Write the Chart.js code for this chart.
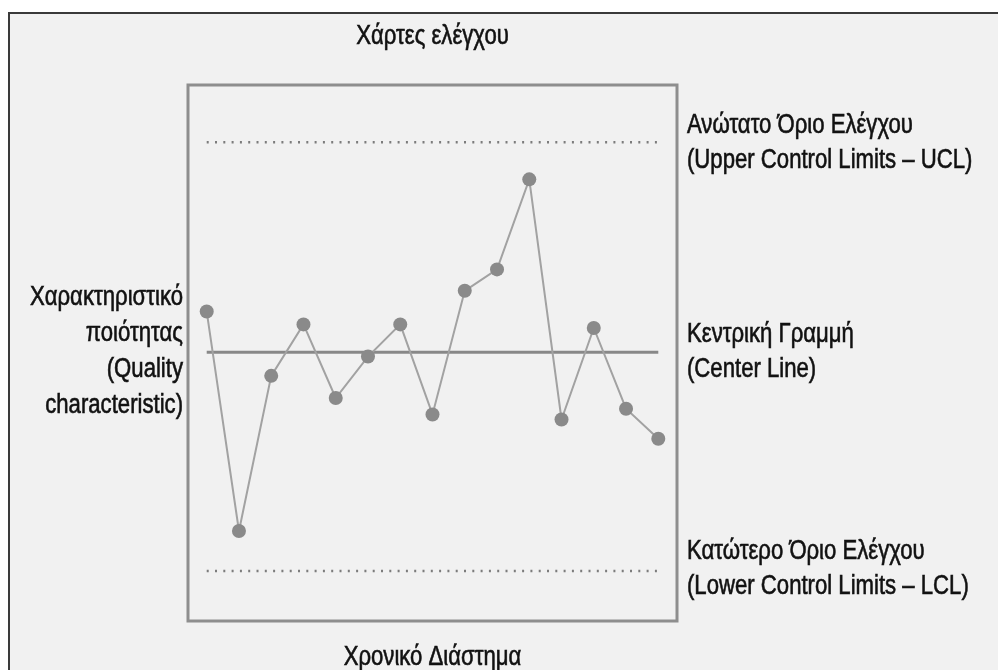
<!DOCTYPE html>
<html>
<head>
<meta charset="utf-8">
<script src="https://cdn.jsdelivr.net/npm/chart.js@4"></script>
<style>
  html, body { margin: 0; padding: 0; background: #ffffff; }
  #wrap { width: 998px; height: 670px; position: relative; }
</style>
</head>
<body>
<div id="wrap"><canvas id="controlchart" width="998" height="670"></canvas></div>
<script>
// Δείγματα στον χρόνο (άξονας x) και τιμές του χαρακτηριστικού
const samples = [1, 2, 3, 4, 5, 6, 7, 8, 9, 10, 11, 12, 13, 14, 15];
const quality = [56.3, 25.6, 47.3, 54.5, 44.2, 50.0, 54.5, 41.9, 59.2, 62.2, 74.8, 41.2, 54.0, 42.7, 38.5];

// Όρια ελέγχου
const centerValue = 50.6;
const uclValue = 80;
const lclValue = 20;

// Κείμενα
const chartTitle = 'Χάρτες ελέγχου';
const xLabel = 'Χρονικό Διάστημα';
const yLabel = ['Χαρακτηριστικό', 'ποιότητας', '(Quality', 'characteristic)'];
const uclLabel = ['Ανώτατο Όριο Ελέγχου', '(Upper Control Limits – UCL)'];
const centerLabel = ['Κεντρική Γραμμή', '(Center Line)'];
const lclLabel = ['Κατώτερο Όριο Ελέγχου', '(Lower Control Limits – LCL)'];

// στενή γραμματοσειρά: Liberation Sans συμπιεσμένη οριζόντια
const FONT = '27px "Liberation Sans", Arial, sans-serif';
const NARROW = 0.82;

const first = samples[0];
const last = samples[samples.length - 1];

function narrowText(ctx, text, x, y, align) {
  ctx.save();
  ctx.translate(x, y);
  ctx.scale(NARROW, 1);
  ctx.textAlign = align;
  ctx.strokeText(text, 0, 0);  // λίγο πιο έντονα, όπως στο σκαναρισμένο
  ctx.fillText(text, 0, 0);
  ctx.restore();
}

// Πλαίσιο, κουτί και κείμενα
const decorPlugin = {
  id: 'decor',
  beforeDraw(chart) {
    const ctx = chart.ctx;
    ctx.save();
    ctx.fillStyle = '#ffffff';
    ctx.fillRect(0, 0, chart.width, chart.height);
    ctx.fillStyle = '#f1f1f1';
    ctx.fillRect(9, 13, chart.width - 9, chart.height - 13);
    ctx.strokeStyle = '#3a3a3a';
    ctx.lineWidth = 2;
    ctx.beginPath();
    ctx.moveTo(9, chart.height);
    ctx.lineTo(9, 13);
    ctx.lineTo(chart.width, 13);
    ctx.stroke();
    ctx.restore();
  },
  afterDraw(chart) {
    const ctx = chart.ctx;
    const area = chart.chartArea;
    const y = chart.scales.y;
    ctx.save();
    ctx.strokeStyle = '#8e8e8e';
    ctx.lineWidth = 3;
    ctx.strokeRect(area.left, area.top, area.right - area.left, area.bottom - area.top);

    ctx.fillStyle = '#111111';
    ctx.strokeStyle = '#111111';
    ctx.lineWidth = 0.6;
    ctx.font = FONT;
    ctx.textBaseline = 'alphabetic';
    const midX = (area.left + area.right) / 2;
    narrowText(ctx, chartTitle, midX, 44, 'center');
    narrowText(ctx, xLabel, midX, 665, 'center');

    yLabel.forEach((t, i) => narrowText(ctx, t, area.left - 5, 305 + i * 36, 'right'));

    const tx = area.right + 10;
    const block = (lines, base) => lines.forEach((t, i) => narrowText(ctx, t, tx, base + i * 35, 'left'));
    block(uclLabel, y.getPixelForValue(uclValue) - 9);
    block(centerLabel, y.getPixelForValue(centerValue) - 10);
    block(lclLabel, y.getPixelForValue(lclValue) - 12);
    ctx.restore();
  }
};

const limitLine = (value, color, width, dash) => ({
  data: [{ x: first, y: value }, { x: last, y: value }],
  borderColor: color,
  borderWidth: width,
  borderDash: dash,
  pointRadius: 0,
  fill: false
});

const ctx = document.getElementById('controlchart').getContext('2d');
new Chart(ctx, {
  type: 'line',
  data: {
    datasets: [
      {
        data: samples.map((s, i) => ({ x: s, y: quality[i] })),
        borderColor: '#a2a2a2',
        borderWidth: 2,
        pointRadius: 7,
        pointBackgroundColor: '#8a8a8a',
        pointBorderWidth: 0,
        tension: 0
      },
      limitLine(centerValue, '#888888', 3, []),
      limitLine(uclValue, '#7c7c7c', 2.5, [2, 6.3]),
      limitLine(lclValue, '#7c7c7c', 2.5, [2, 6.3])
    ]
  },
  options: {
    responsive: false,
    animation: false,
    layout: { padding: { left: 188, right: 321, top: 85, bottom: 49 } },
    scales: {
      x: { type: 'linear', display: false, min: 0.42, max: 15.58 },
      y: { display: false, min: 13, max: 88 }
    },
    plugins: {
      legend: { display: false },
      tooltip: { enabled: false }
    }
  },
  plugins: [decorPlugin]
});
</script>
</body>
</html>
